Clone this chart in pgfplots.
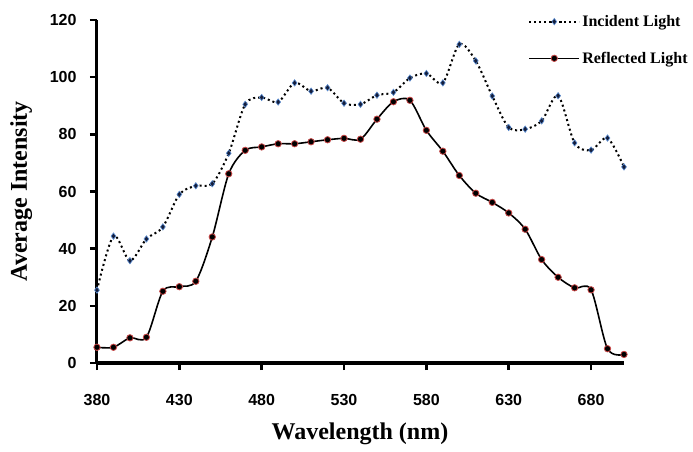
\documentclass[border=0pt]{standalone}
\usepackage{fontspec}
\setmainfont{Liberation Serif}
\newfontfamily\tickfont{Liberation Sans}
\usepackage{pgfplots}
\pgfplotsset{compat=1.18}
\definecolor{incfill}{RGB}{20,30,60}
\definecolor{incedge}{RGB}{90,140,210}
\definecolor{refedge}{RGB}{200,70,70}
\begin{document}
\begin{tikzpicture}
\useasboundingbox (-97pt,-88pt) rectangle (596pt,363pt);
\begin{axis}[
  scale only axis, width=527pt, height=343pt,
  xmin=380, xmax=700, ymin=0, ymax=120,
  axis lines=left, axis line style={-},
  x axis line style={line width=4.5pt},
  y axis line style={line width=3pt},
  xtick={380,430,480,530,580,630,680},
  ytick={0,20,40,60,80,100,120},
  tick align=outside, major tick length=7pt,
  tick style={line width=2.5pt, black},
  /pgf/number format/assume math mode=true,
  ticklabel style={font=\tickfont\bfseries\fontsize{16}{16}\selectfont},
  yticklabel style={xshift=-10pt},
  xticklabel style={yshift=-21pt},
  xlabel={Wavelength (nm)}, ylabel={Average Intensity},
  label style={font=\bfseries\fontsize{24}{24}\selectfont},
  xlabel style={at={(axis description cs:0.499,-0.207)}, anchor=center},
  ylabel style={at={(axis description cs:-0.144,0.501)}, anchor=center, rotate=0},
  clip=false,
  legend style={draw=none, fill=none, at={(axis description cs:0.818,1.02)}, anchor=north west,
    font=\bfseries\fontsize{16}{16}\selectfont, row sep=20pt, inner sep=0pt, cells={anchor=west}},
  legend image code/.code={\draw[mark repeat=2,mark phase=2] plot coordinates {(0pt,0pt)(25pt,0pt)(50pt,0pt)};},
]
\addplot[smooth, tension=0.5, black, line width=2pt, dash pattern=on 2pt off 3pt,
  mark=diamond*, mark size=3.2pt, mark options={solid, fill=incfill, draw=incedge, line width=0.6pt}]
coordinates {
(380,25.5)(390,44.4)(400,35.8)(410,43.4)(420,47.6)(430,59.0)(440,62.0)(450,62.7)
(460,73.4)(470,90.5)(480,92.9)(490,91.3)(500,98.0)(510,95.1)(520,96.3)(530,90.9)
(540,90.5)(550,93.7)(560,94.7)(570,99.7)(580,101.3)(590,98.0)(600,111.5)(610,105.7)
(620,93.4)(630,82.4)(640,81.8)(650,84.7)(660,93.5)(670,77.0)(680,74.5)(690,78.7)(700,68.6)
};
\addlegendentry{Incident Light}
\addplot[smooth, tension=0.5, black, line width=1.6pt,
  mark=*, mark size=3.2pt, mark options={fill=black, draw=refedge, line width=0.8pt}]
coordinates {
(380,5.5)(390,5.5)(400,8.8)(410,9.0)(420,25.1)(430,26.7)(440,28.6)(450,44.1)
(460,66.2)(470,74.4)(480,75.6)(490,76.7)(500,76.7)(510,77.4)(520,78.1)(530,78.6)
(540,78.3)(550,85.3)(560,91.4)(570,91.9)(580,81.4)(590,74.1)(600,65.6)(610,59.4)
(620,56.2)(630,52.5)(640,46.8)(650,36.2)(660,30.0)(670,26.3)(680,25.6)(690,5.0)(700,3.0)
};
\addlegendentry{Reflected Light}
\end{axis}
\end{tikzpicture}
\end{document}
